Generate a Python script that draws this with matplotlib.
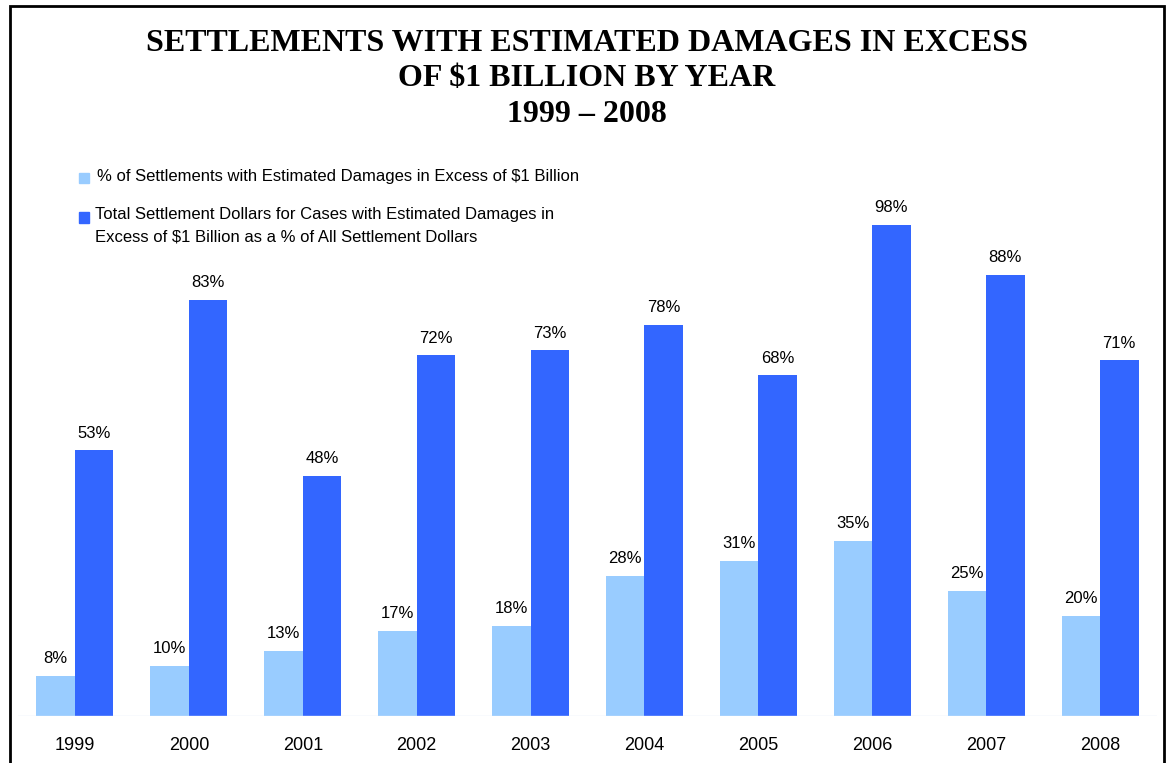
import matplotlib.pyplot as plt
from matplotlib.patches import Rectangle
import numpy as np

# data
years = ["1999", "2000", "2001", "2002", "2003", "2004", "2005", "2006", "2007", "2008"]
pct_settlements = [8, 10, 13, 17, 18, 28, 31, 35, 25, 20]
pct_dollars = [53, 83, 48, 72, 73, 78, 68, 98, 88, 71]
legend_labels = [
    "% of Settlements with Estimated Damages in Excess of $1 Billion",
    "Total Settlement Dollars for Cases with Estimated Damages in\nExcess of $1 Billion as a % of All Settlement Dollars",
]

light = "#99CCFF"
dark = "#3366FF"

W, H = 1171, 763
fig = plt.figure(figsize=(W / 100, H / 100), dpi=100)
plt.rcParams["font.family"] = "Liberation Sans"

# axes: group spacing ~114 px, baseline at y=716, 5.01 px per %
ax = fig.add_axes([18 / W, 47 / H, 1139 / W, 501 / H])
x = np.arange(len(years))
w = 0.338
b1 = ax.bar(x - w / 2, pct_settlements, w, color=light)
b2 = ax.bar(x + w / 2, pct_dollars, w, color=dark)
ax.set_xlim(-0.5, len(years) - 0.5)
ax.set_ylim(0, 100)

for bars, vals in [(b1, pct_settlements), (b2, pct_dollars)]:
    for r, v in zip(bars, vals):
        ax.annotate(f"{v}%", (r.get_x() + r.get_width() / 2, v),
                    xytext=(0, 7), textcoords="offset points",
                    ha="center", va="bottom", fontsize=12)

ax.set_xticks(x)
ax.set_xticklabels(years, fontsize=13)
ax.tick_params(axis="x", length=0, pad=15)
ax.set_yticks([])
for s in ax.spines.values():
    s.set_visible(False)
ax.axhline(0, color="#dde8f5", lw=1)

# title
fig.text(587 / W, 1 - 79 / H,
         "SETTLEMENTS WITH ESTIMATED DAMAGES IN EXCESS\nOF $1 BILLION BY YEAR\n1999 \u2013 2008",
         ha="center", va="center", fontsize=23, fontweight="bold",
         family="Liberation Serif", linespacing=1.3)

# legend drawn by hand
fig.patches.append(Rectangle((79 / W, 1 - 183 / H), 10 / W, 10 / H,
                             transform=fig.transFigure, color=light))
fig.patches.append(Rectangle((79 / W, 1 - 223 / H), 10 / W, 11 / H,
                             transform=fig.transFigure, color=dark))
fig.text(97 / W, 1 - 177 / H, legend_labels[0], ha="left", va="center", fontsize=12)
fig.text(95 / W, 1 - 207 / H, legend_labels[1], ha="left", va="top", fontsize=12,
         linespacing=1.6)

# outer frame
fig.patches.append(Rectangle((10 / W, -0.05), 1154 / W, 1.05 - 6 / H,
                             transform=fig.transFigure, fill=False,
                             edgecolor="black", lw=2))

fig.savefig("out.png", dpi=100)
